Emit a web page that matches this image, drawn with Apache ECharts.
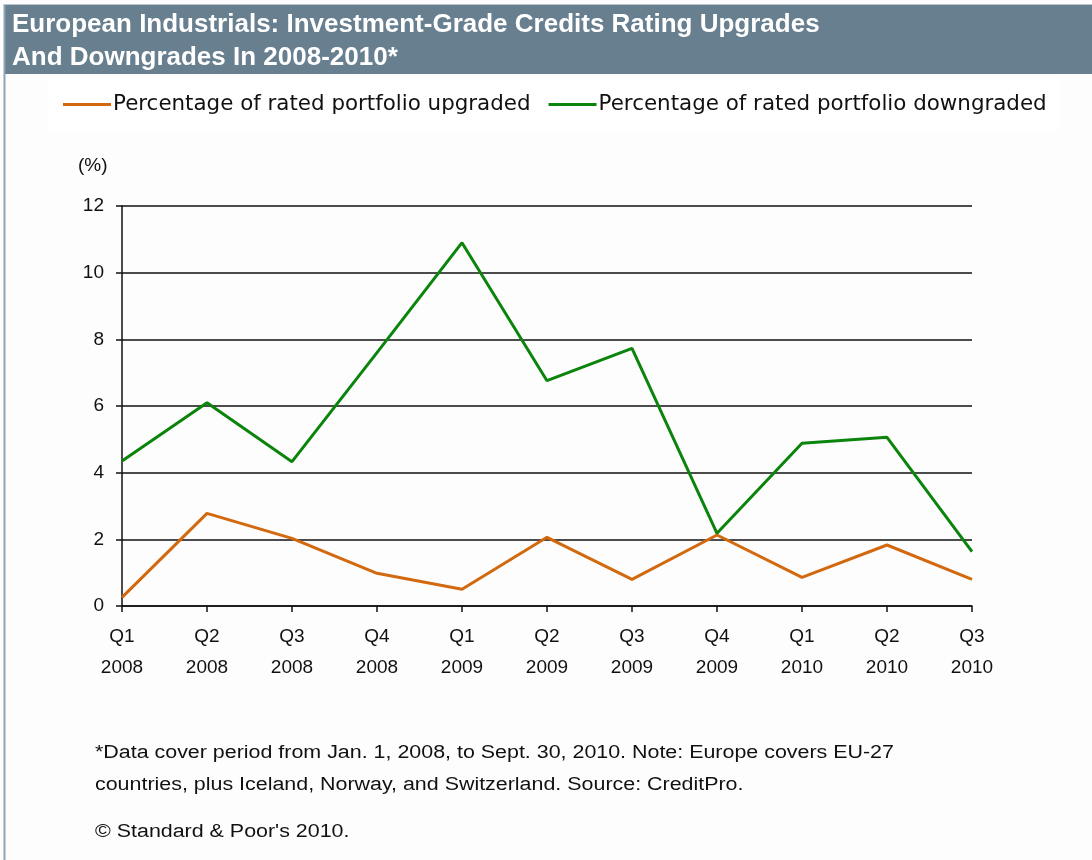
<!DOCTYPE html>
<html>
<head>
<meta charset="utf-8">
<script src="https://cdn.jsdelivr.net/npm/echarts@6/dist/echarts.min.js"></script>
<style>
html,body{margin:0;padding:0;background:#fdfdfd;}
#c{width:1092px;height:860px;}
</style>
</head>
<body>
<div id="c"></div>
<script>
const categories = ["Q1\n2008","Q2\n2008","Q3\n2008","Q4\n2008","Q1\n2009","Q2\n2009","Q3\n2009","Q4\n2009","Q1\n2010","Q2\n2010","Q3\n2010"];
const upgraded = [0.26, 2.78, 2.03, 0.98, 0.5, 2.06, 0.8, 2.13, 0.86, 1.83, 0.8];
const downgraded = [4.35, 6.1, 4.33, 7.6, 10.9, 6.76, 7.73, 2.18, 4.88, 5.06, 1.63];
const seriesNames = ["Percentage of rated portfolio upgraded", "Percentage of rated portfolio downgraded"];
const titleText = "European Industrials: Investment-Grade Credits Rating Upgrades\nAnd Downgrades In 2008-2010*";
const footnote = "*Data cover period from Jan. 1, 2008, to Sept. 30, 2010. Note: Europe covers EU-27\ncountries, plus Iceland, Norway, and Switzerland. Source: CreditPro.";
const copyright = "\u00A9 Standard & Poor's 2010.";

const chart = echarts.init(document.getElementById('c'), null, {renderer:'canvas'});
const font = "Liberation Sans, Arial, sans-serif";
chart.setOption({
  backgroundColor: '#fdfdfd',
  animation: false,
  graphic: [
    {type:'rect', shape:{x:5,y:5,width:1087,height:69}, style:{fill:'#677f8f'}, z:0},
    {type:'rect', shape:{x:48,y:78,width:1012,height:52}, style:{fill:'#ffffff'}, z:0},
    {type:'line', shape:{x1:4.5,y1:4,x2:4.5,y2:860}, style:{stroke:'#8da3b3', lineWidth:2}, z:1},
    {type:'line', shape:{x1:4,y1:4.5,x2:1092,y2:4.5}, style:{stroke:'#b9c6cf', lineWidth:1}, z:1},
    {type:'text', x:12, y:8, style:{text:titleText, fill:'#ffffff', font:"bold 26px " + font, lineHeight:33}, z:2},
    {type:'text', left:78, top:156, style:{text:'(%)', fill:'#111', font:"19px " + font}, z:2},
    {type:'text', x:95, y:737, scaleX:1.19, style:{text:footnote, fill:'#111', font:"18px " + font, lineHeight:32}, z:2},
    {type:'text', x:95, y:823, scaleX:1.19, style:{text:copyright, fill:'#111', font:"18px " + font}, z:2}
  ],
  legend: {
    top: 89, left: 58,
    itemWidth: 48, itemHeight: 3, itemGap: 18,
    icon: 'rect',
    textStyle: {fontSize: 21.4, color:'#111', fontFamily: "'DejaVu Sans', sans-serif", padding:[0,0,0,-3]},
    data: seriesNames
  },
  grid: {left:122, right:120, top:206, bottom:254, containLabel:false},
  xAxis: {
    type:'category', data: categories, boundaryGap:false,
    axisLine:{lineStyle:{color:'#111', width:1.5}},
    axisTick:{show:true, length:6, lineStyle:{color:'#111', width:1.5}},
    axisLabel:{fontSize:19, color:'#111', fontFamily:font, lineHeight:31, margin:15, interval:0},
    splitLine:{show:false}
  },
  yAxis: {
    type:'value', min:0, max:12, interval:2,
    axisLine:{show:true, lineStyle:{color:'#111', width:1.5}},
    axisTick:{show:true, length:6, lineStyle:{color:'#111', width:1.5}},
    axisLabel:{fontSize:19, color:'#111', fontFamily:font, margin:18},
    splitLine:{show:true, lineStyle:{color:'#111', width:1.5}}
  },
  series: [
    {name:seriesNames[0], type:'line', data:upgraded, symbol:'none', lineStyle:{color:'#d2690f', width:3}, itemStyle:{color:'#d2690f'}},
    {name:seriesNames[1], type:'line', data:downgraded, symbol:'none', lineStyle:{color:'#0a840a', width:3}, itemStyle:{color:'#0a840a'}}
  ]
});
</script>
</body>
</html>
